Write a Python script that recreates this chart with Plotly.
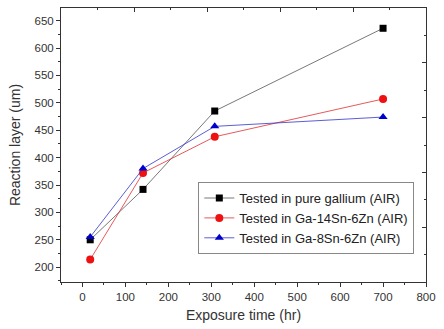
import plotly.graph_objects as go

times = [18, 141, 308, 700]
pure_ga = [250, 342, 485, 636]
ga14sn = [214, 372, 438, 507]
ga8sn = [255, 380, 457, 474]
names = ["Tested in pure gallium (AIR)", "Tested in Ga-14Sn-6Zn (AIR)", "Tested in Ga-8Sn-6Zn (AIR)"]

FONT = "Liberation Sans, Arial, sans-serif"
fig = go.Figure()
fig.add_trace(go.Scatter(x=times, y=pure_ga, name=names[0], mode="lines+markers",
                         line=dict(color="#555555", width=0.8),
                         marker=dict(symbol="square", size=7, color="black")))
fig.add_trace(go.Scatter(x=times, y=ga14sn, name=names[1], mode="lines+markers",
                         line=dict(color="#e03030", width=0.8),
                         marker=dict(symbol="circle", size=8, color="#ee1111")))
fig.add_trace(go.Scatter(x=times, y=ga8sn, name=names[2], mode="lines+markers",
                         line=dict(color="#3333cc", width=0.8),
                         marker=dict(symbol="triangle-up", size=8, color="#0000cc")))
# invisible trace to carry the top/right frame axes
fig.add_trace(go.Scatter(x=[0, 10], y=[0, 10], xaxis="x2", yaxis="y2", mode="markers",
                         marker=dict(opacity=0), showlegend=False, hoverinfo="skip"))

axcol = "#333333"
fig.update_layout(
    width=444, height=329,
    margin=dict(l=61, r=10, t=8, b=47),
    paper_bgcolor="white", plot_bgcolor="white",
    font=dict(family=FONT, size=11.5, color="#333333"),
    xaxis=dict(range=[-50, 800], dtick=100, tick0=0, showgrid=False, zeroline=False,
               showline=True, linecolor=axcol, linewidth=1,
               ticks="outside", ticklen=4, tickcolor=axcol, ticklabeloverflow="allow",
               minor=dict(ticks="outside", ticklen=2, dtick=50, tick0=0, tickcolor=axcol),
               title=dict(text="Exposure time (hr)", font=dict(size=14, color="#333333"), standoff=8)),
    yaxis=dict(range=[173, 673], dtick=50, tick0=0, showgrid=False, zeroline=False,
               showline=True, linecolor=axcol, linewidth=1,
               ticks="outside", ticklen=4, tickcolor=axcol, ticklabeloverflow="allow",
               minor=dict(ticks="outside", ticklen=2, dtick=25, tick0=0, tickcolor=axcol),
               title=dict(text="Reaction layer (um)", font=dict(size=14, color="#333333"), standoff=10)),
    xaxis2=dict(overlaying="x", side="top", range=[0, 10], dtick=2, tick0=0,
                showticklabels=False, showgrid=False, zeroline=False,
                showline=True, linecolor=axcol, linewidth=1,
                ticks="inside", ticklen=4, tickcolor=axcol,
                minor=dict(ticks="inside", ticklen=2, dtick=1, tick0=0, tickcolor=axcol)),
    yaxis2=dict(overlaying="y", side="right", range=[0, 10], dtick=2, tick0=0,
                showticklabels=False, showgrid=False, zeroline=False,
                showline=True, linecolor=axcol, linewidth=1,
                ticks="inside", ticklen=4, tickcolor=axcol,
                minor=dict(ticks="inside", ticklen=2, dtick=1, tick0=0, tickcolor=axcol)),
    legend=dict(x=0.968, y=0.102, xanchor="right", yanchor="bottom",
                bgcolor="white", bordercolor="#888888", borderwidth=1,
                font=dict(family=FONT, size=13, color="#222222"),
                tracegroupgap=0, itemwidth=30),
    showlegend=True,
)
fig.write_html("out.html", config={"displayModeBar": False},
               post_script="document.body.style.margin='0';document.body.style.overflow='hidden';")
